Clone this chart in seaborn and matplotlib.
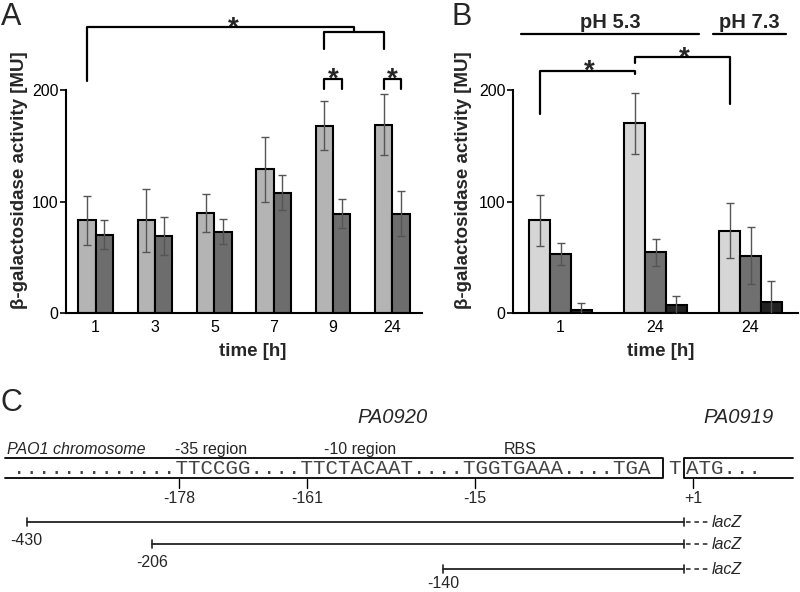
import matplotlib
matplotlib.use("Agg")
import matplotlib.pyplot as plt
import seaborn as sns
import pandas as pd

# panel A: time course, two reporter strains (mean, sd)
times_a = ["1", "3", "5", "7", "9", "24"]
light_a = [83, 83, 90, 129, 168, 169]
light_a_sd = [22, 28, 17, 29, 22, 27]
dark_a = [70, 69, 73, 108, 89, 89]
dark_a_sd = [13, 17, 11, 15.5, 13, 20]

# panel B: pH 5.3 (1 h, 24 h) and pH 7.3 (24 h), three constructs
conds_b = ["1 h pH 5.3", "24 h pH 5.3", "24 h pH 7.3"]
ticks_b = ["1", "24", "24"]
light_b = [83, 170, 74]
light_b_sd = [23, 27, 25]
mid_b = [53, 54.5, 51.5]
mid_b_sd = [10, 12, 25.5]
black_b = [3, 7, 10]
black_b_sd = [6, 8, 19]

# panel C: promoter map (schematic x positions in pixels)
seq_main = "............." + "TTCCGG" + "...." + "TTCTACAAT" + "...." + "TGGTGAAA" + "...." + "TGA"
motif_names = ["-35 region", "-10 region", "RBS"]
motif_x = [211, 360, 520]
site_labels = ["-178", "-161", "-15", "+1"]
site_x = [179, 307, 475, 693]
construct_labels = ["-430", "-206", "-140"]
construct_x = [26.5, 151.7, 443]
construct_y = [522, 544, 569]
construct_label_y = [545, 567, 588]

sns.set_theme(style="white")
plt.rcParams["font.family"] = ["Liberation Sans", "DejaVu Sans"]

fig = plt.figure(figsize=(8, 5.92), dpi=100)
W, H = 800, 592
ax_a = fig.add_axes([66 / W, 279 / H, 356 / W, 301 / H])
ax_b = fig.add_axes([513 / W, 279 / H, 285 / W, 301 / H])

df_a = pd.DataFrame({
    "time": times_a * 2,
    "strain": ["grey"] * len(times_a) + ["dark"] * len(times_a),
    "activity": light_a + dark_a,
})
sns.barplot(data=df_a, x="time", y="activity", hue="strain", order=times_a,
            hue_order=["grey", "dark"], palette=["#b4b4b4", "#6d6d6d"],
            width=0.58, errorbar=None, edgecolor="black", linewidth=1.5,
            saturation=1, legend=False, ax=ax_a)

df_b = pd.DataFrame({
    "cond": conds_b * 3,
    "construct": ["light"] * 3 + ["mid"] * 3 + ["black"] * 3,
    "activity": light_b + mid_b + black_b,
})
sns.barplot(data=df_b, x="cond", y="activity", hue="construct", order=conds_b,
            hue_order=["light", "mid", "black"],
            palette=["#d6d6d6", "#707070", "#222222"],
            width=0.66, errorbar=None, edgecolor="black", linewidth=1.5,
            saturation=1, legend=False, ax=ax_b)

centers = {}
for ax, sds, key in [(ax_a, [light_a_sd, dark_a_sd], "a"),
                     (ax_b, [light_b_sd, mid_b_sd, black_b_sd], "b")]:
    centers[key] = []
    for cont, sd in zip(ax.containers, sds):
        xs = [p.get_x() + p.get_width() / 2 for p in cont]
        ys = [p.get_height() for p in cont]
        centers[key].append(xs)
        ax.errorbar(xs, ys, yerr=sd, fmt="none", ecolor="#555555",
                    elinewidth=1, capsize=3, capthick=1, zorder=5)

for ax, n in [(ax_a, len(times_a)), (ax_b, len(conds_b))]:
    ax.set_xlim(-0.5, n - 0.5)
    ax.set_ylim(0, 270)
    ax.set_yticks([0, 100, 200])
    sns.despine(ax=ax)
    ax.spines["left"].set_bounds(0, 200)
    for s in ["left", "bottom"]:
        ax.spines[s].set_linewidth(1.5)
        ax.spines[s].set_color("black")
    ax.tick_params(axis="y", left=True, length=4, width=1.2, labelsize=11.5, pad=1.5, colors="black")
    ax.tick_params(axis="x", length=0, labelsize=11.5, pad=5, colors="black")
    ax.set_xlabel("time [h]", fontsize=13.5, fontweight="bold")
    ax.set_ylabel("β-galactosidase activity [MU]", fontsize=13.5, fontweight="bold")

ax_b.set_xticks(range(len(conds_b)))
ax_b.set_xticklabels(ticks_b)
ax_a.xaxis.set_label_coords(0.524, -0.10)
ax_b.xaxis.set_label_coords(0.519, -0.10)
ax_a.yaxis.set_label_coords(-0.107, 0.442)
ax_b.yaxis.set_label_coords(-0.144, 0.442)


def bracket(ax, xs, ys):
    ax.plot(xs, ys, color="black", lw=1.6, clip_on=False, zorder=6)


def star(ax, x, y):
    ax.text(x, y, "*", ha="center", va="baseline", fontsize=20, fontweight="bold")


la, da = centers["a"]
mid45 = (la[4] + la[5]) / 2
bracket(ax_a, [la[4], la[4], da[4], da[4]], [201, 210, 210, 201])
bracket(ax_a, [la[5], la[5], da[5], da[5]], [201, 210, 210, 201])
bracket(ax_a, [la[4], la[4], la[5], la[5]], [237, 252, 252, 237])
bracket(ax_a, [la[0], la[0], mid45, mid45], [208, 256.5, 256.5, 252])
star(ax_a, 2.32, 249)
star(ax_a, (la[4] + da[4]) / 2, 203)
star(ax_a, (la[5] + da[5]) / 2, 203)

lb = centers["b"][0]
bracket(ax_b, [lb[0], lb[0], lb[1], lb[1]], [178.5, 217, 217, 214])
bracket(ax_b, [lb[1], lb[1], lb[2], lb[2]], [224, 230, 230, 187.5])
star(ax_b, 0.30, 210.5)
star(ax_b, 1.30, 222)
ax_b.plot([-0.42, 1.46], [250, 250], color="black", lw=1.6, clip_on=False)
ax_b.plot([1.61, 2.37], [250, 250], color="black", lw=1.6, clip_on=False)
ax_b.text(0.52, 255.5, "pH 5.3", ha="center", va="baseline", fontsize=14.5, fontweight="bold")
ax_b.text(1.99, 255.5, "pH 7.3", ha="center", va="baseline", fontsize=14.5, fontweight="bold")

fig.text(11 / W, 1 - 2 / H, "A", fontsize=22, ha="center", va="top")
fig.text(462 / W, 1 - 2 / H, "B", fontsize=22, ha="center", va="top")
fig.text(11 / W, 1 - 403 / H, "C", fontsize=22, ha="center", va="center")

# panel C drawn in pixel coordinates
ax_c = fig.add_axes([0, 0, 1, 1], zorder=-1)
ax_c.set_xlim(0, W)
ax_c.set_ylim(H, 0)
ax_c.axis("off")

lk = dict(color="black", lw=1.3)
ax_c.plot([5, 663, 663, 5], [458, 458, 478, 478], **lk)
ax_c.plot([793, 684, 684, 793], [458, 458, 478, 478], **lk)
mono = dict(family="Liberation Mono", fontsize=15, color="#444444", va="baseline")
ax_c.text(12.5, 474, seq_main, ha="left", **mono)
ax_c.text(674.5, 474, "T", ha="center", **mono)
ax_c.text(686, 474, "ATG...", ha="left", **mono)

ax_c.text(392, 423, "PA0920", fontsize=14.5, style="italic", ha="center", va="baseline")
ax_c.text(738, 423, "PA0919", fontsize=14.5, style="italic", ha="center", va="baseline")
ax_c.text(7, 454, "PAO1 chromosome", fontsize=11.5, style="italic", ha="left", va="baseline")
for name, x in zip(motif_names, motif_x):
    ax_c.text(x, 454, name, fontsize=11.5, ha="center", va="baseline")

for lab, x in zip(site_labels, site_x):
    ax_c.plot([x, x], [479, 488], color="black", lw=1)
    ax_c.text(x, 503, lab, fontsize=11.5, ha="center", va="baseline")

for lab, x, y, ly in zip(construct_labels, construct_x, construct_y, construct_label_y):
    ax_c.plot([x, 684], [y, y], color="#222222", lw=1.3)
    ax_c.plot([x, x], [y - 4, y + 4], color="#222222", lw=1.2)
    ax_c.plot([684, 684], [y - 4, y + 4], color="#222222", lw=1.2)
    ax_c.plot([686, 711], [y, y], color="#222222", lw=1.1, linestyle=(0, (3, 2.5)))
    ax_c.text(712, y + 5, "lacZ", fontsize=11.5, style="italic", ha="left", va="baseline")
    ax_c.text(x, ly, lab, fontsize=11.5, ha="center", va="baseline")

fig.savefig("out.png", dpi=100)
